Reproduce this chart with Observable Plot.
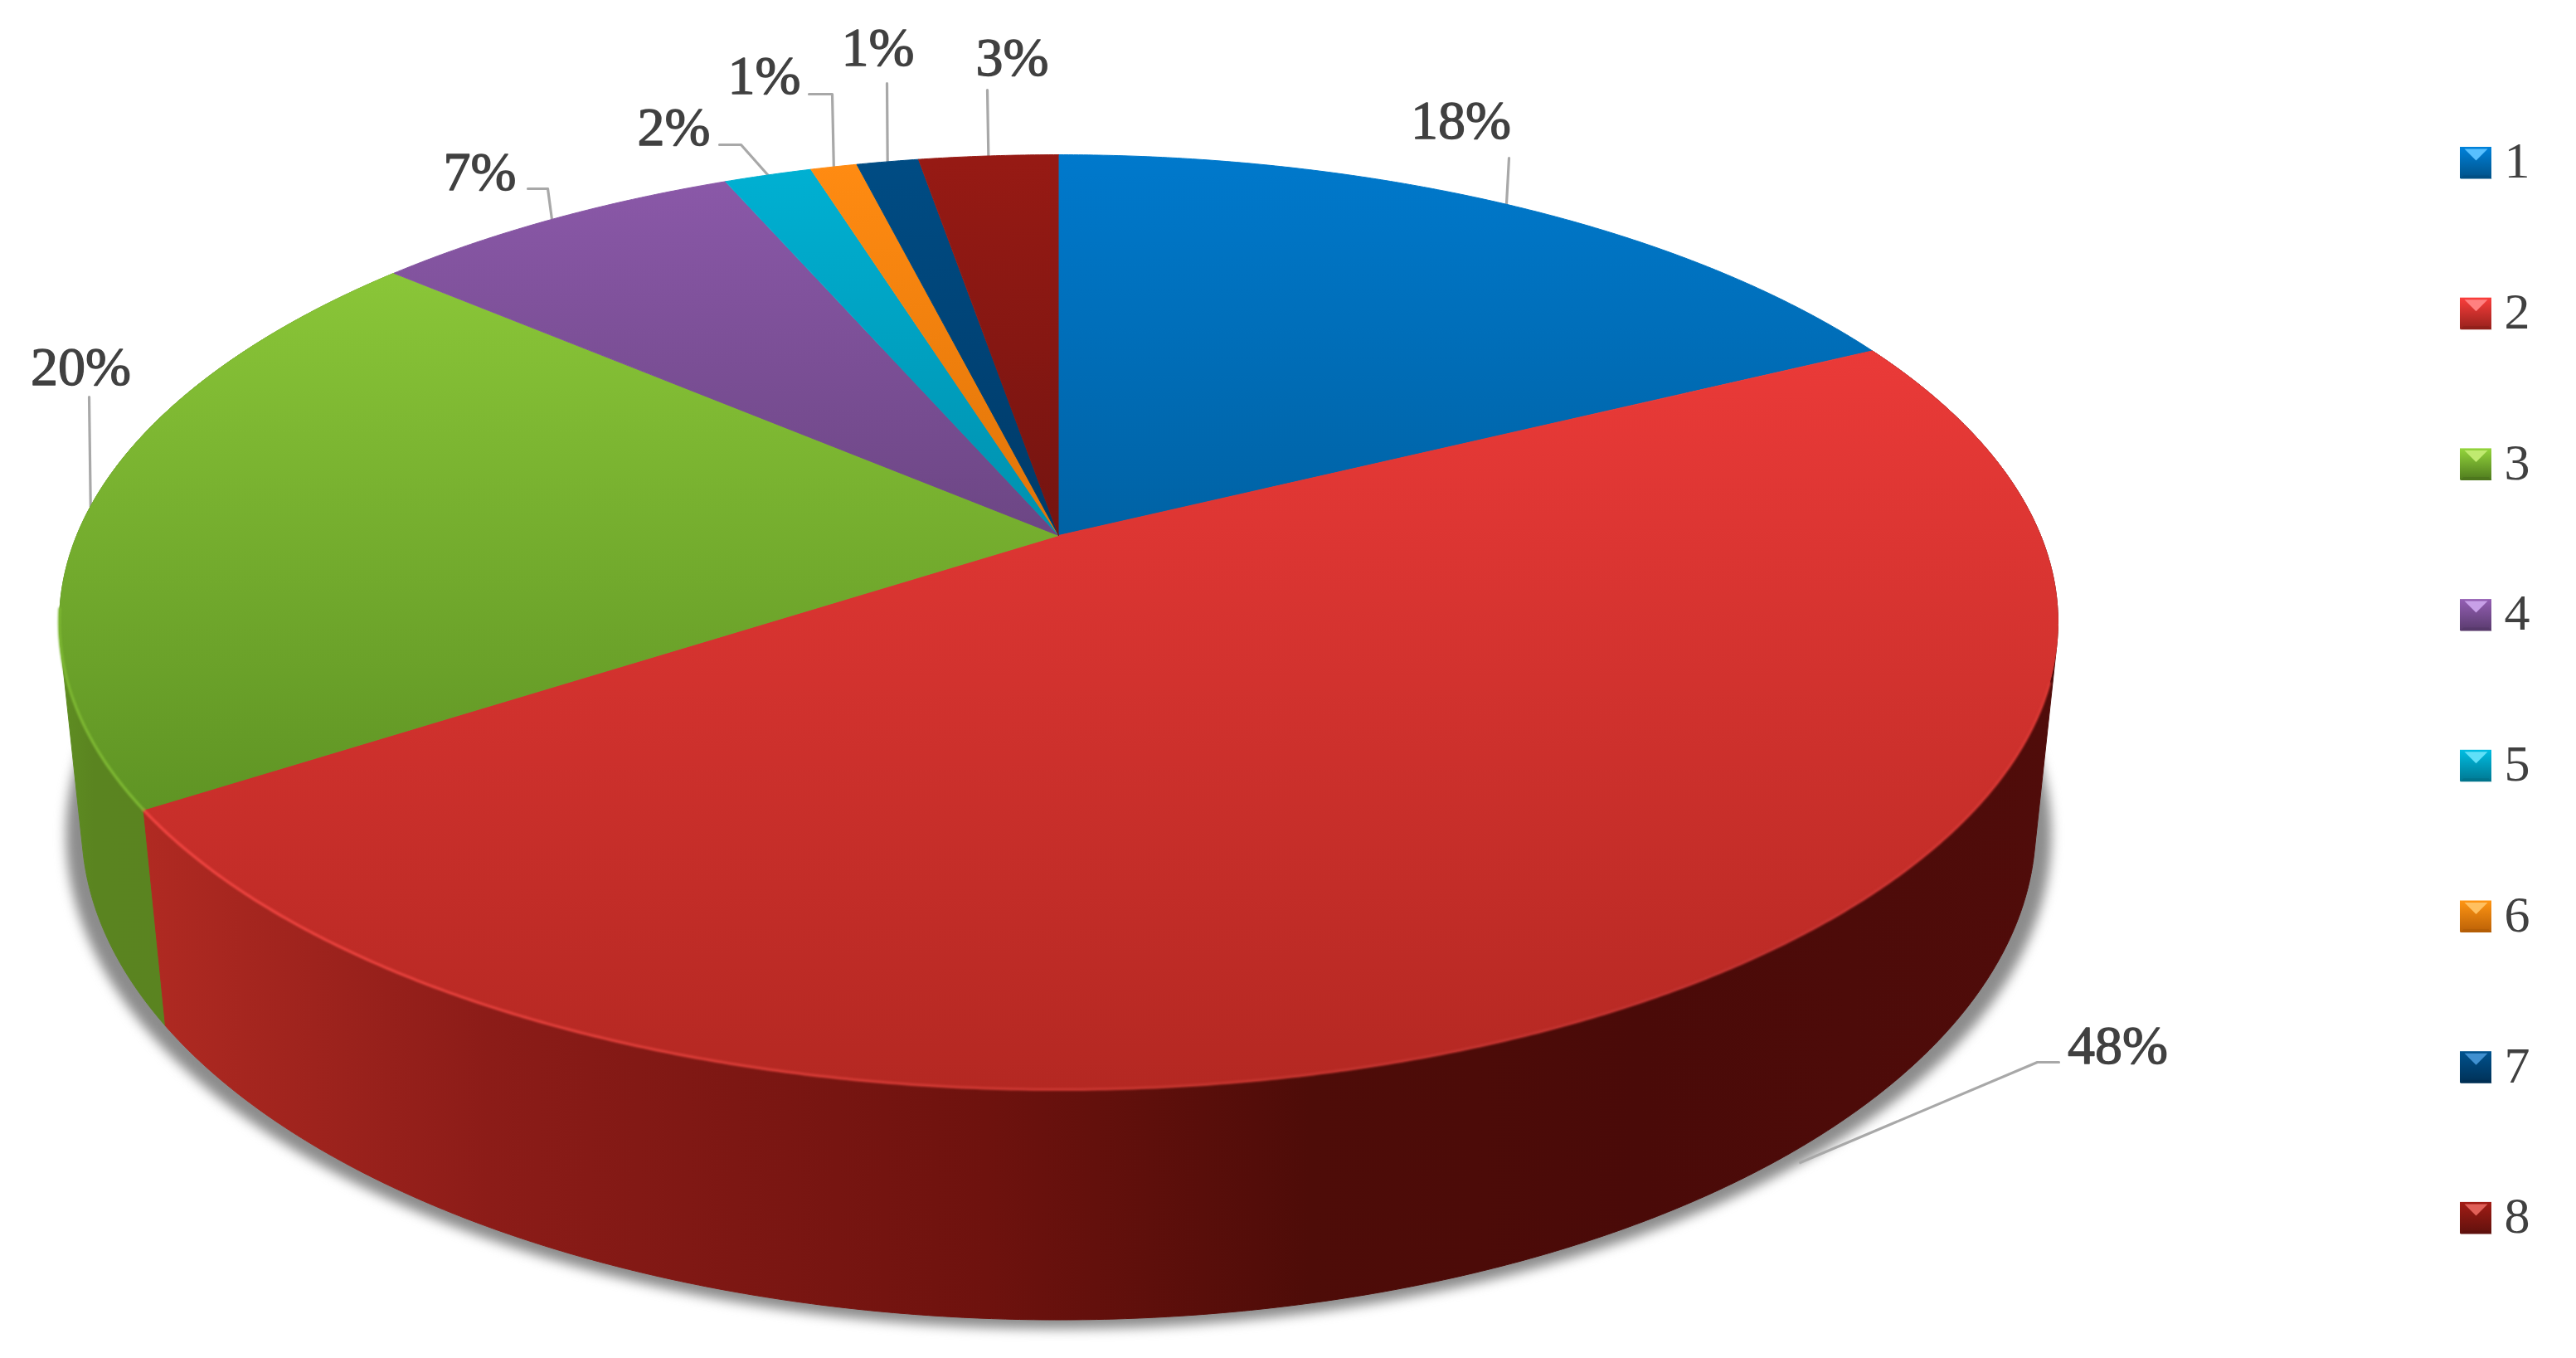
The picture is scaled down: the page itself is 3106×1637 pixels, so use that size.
<!DOCTYPE html>
<html>
<head>
<meta charset="utf-8">
<style>html,body{margin:0;padding:0;background:#fff;overflow:hidden}svg{display:block}</style>
<script src="https://cdn.jsdelivr.net/npm/d3@7"></script>
<script src="https://cdn.jsdelivr.net/npm/@observablehq/plot@0.6"></script>
</head>
<body>
<div id="chart"></div>
<script>
// ---- data ----
const categories = ["1","2","3","4","5","6","7","8"];
const shares = [17.7, 48.1, 20.49, 7.21, 1.7, 0.9, 1.2, 2.7];

// ---- styles ----
const topLight = ["#0079cc","#ea3a38","#8ac638","#8a58a8","#00b0d2","#ff8b12","#004c84","#971a14"];
const topDark  = ["#0062a4","#b42822","#5f9424","#6c4684","#0090ae","#e07408","#003a68","#741410"];
const gemLight = ["#58c0ff","#ff8080","#c0ea70","#c8a0e8","#60e0f8","#ffc060","#4090d0","#e06058"];

// ---- layout of the tilted disc (perspective projection of a unit circle) ----
const W = 3106, H = 1637;
const cx = 1276, apexY = 645, Rx = 1184, Ry = 544, tilt = 0.1854;
const lowerGrow = 0.022, lowerDrop = 247;
const rimTop = (t) => {
  const u = Math.sin(t), v = Math.cos(t), w = 1 + tilt * v;
  return {x: cx + Rx * u / w, y: apexY - Ry * v / w};
};
const rimLow = (t) => {
  const u = Math.sin(t), v = Math.cos(t), w = 1 + lowerGrow + tilt * v;
  return {x: cx + Rx * u / w, y: apexY + (lowerDrop - Ry * v) / w};
};
const total = d3.sum(shares);
const ends = d3.cumsum(shares).map((d) => d / total * 2 * Math.PI);
const starts = ends.map((d, i) => (i ? ends[i - 1] : 0));
const sweep = (a, b) => {
  const n = Math.max(2, Math.ceil((b - a) / 0.006));
  return d3.range(n + 1).map((k) => a + (b - a) * k / n);
};

// label centres and leader polylines, in pixels; last leader point is the rim mid-point unless given
const labelAt = [[1761,145],[2553,1260],[97,442],[578,207],[812,153],[921,91],[1058,57],[1220,69]];
const leaderStart = [
  [[1819,190]],
  [[2482,1280],[2456,1280],[2170,1401]],
  [[107,478]],
  [[636,227],[660,227]],
  [[867,174],[893,174]],
  [[975,113],[1003,113]],
  [[1069,100]],
  [[1190,108]]
];

const legendX = 2966, legendSize = 38, legendTop = 196, legendStep = 181.7;

// ---- geometry derived from the values ----
const topPolys = shares.map((_, i) => [{x: cx, y: apexY}, ...sweep(starts[i], ends[i]).map(rimTop)]);
const sidePoly = (i) => {
  const a = sweep(starts[i], ends[i]);
  return d3.polygonHull([...a.map(rimTop), ...a.map(rimLow)].map((p) => [p.x, p.y])).map(([x, y]) => ({x, y}));
};
const leaders = shares.map((_, i) => {
  const pts = leaderStart[i].map(([x, y]) => ({x, y}));
  if (i !== 1) pts.push(rimTop((starts[i] + ends[i]) / 2));
  return pts;
});
const shadowRing = sweep(0, 2 * Math.PI).map(rimLow).map((p) => ({
  x: cx + (p.x - cx) * 1.016,
  y: p.y + 11
}));
const labels = shares.map((d, i) => ({
  text: d3.format(".0f")(d) + "%",
  x: labelAt[i][0],
  y: labelAt[i][1]
}));
const legendRows = categories.map((c, i) => ({c, i, y: legendTop + i * legendStep}));
const gemTri = (r) => [
  {x: legendX + 5, y: r.y - legendSize / 2 + 2},
  {x: legendX + legendSize - 5, y: r.y - legendSize / 2 + 2},
  {x: legendX + legendSize / 2, y: r.y - 3}
];
const gemBase = (r) => [
  {x: legendX + 4, y: r.y + legendSize / 2 - 4},
  {x: legendX + legendSize - 4, y: r.y + legendSize / 2 - 4},
  {x: legendX + legendSize, y: r.y + legendSize / 2},
  {x: legendX, y: r.y + legendSize / 2}
];

const fg = (name, stops, horizontal) => (sel) => {
  const g = sel.append("linearGradient").attr("id", name)
    .attr("x1", 0).attr("y1", 0).attr("x2", horizontal ? 1 : 0).attr("y2", horizontal ? 0 : 1);
  stops.forEach(([o, c]) => g.append("stop").attr("offset", o).attr("stop-color", c));
};
const defsMark = () => {
  const defs = d3.create("svg:defs");
  categories.forEach((_, i) => {
    defs.call(fg(`top${i}`, [[0, topLight[i]], [1, topDark[i]]]));
    defs.call(fg(`gem${i}`, [[0, d3.color(topLight[i]).brighter(0.2).formatHex()], [1, d3.color(topDark[i]).darker(0.5).formatHex()]]));
  });
  defs.call(fg("sideRed", [[0,"#b02a22"],[0.18,"#8c1c18"],[0.44,"#6e120e"],[0.61,"#4e0c08"],[0.78,"#4a0a08"],[1,"#500c0a"]], true));
  defs.call(fg("sideGreen", [[0,"#5f8e22"],[0.1,"#5a8420"],[1,"#5a8220"]], true));
  defs.call(fg("rimRed", [[0,"#ee4440"],[0.55,"#c2342e"],[0.85,"#c03230"],[1,"#d83834"]], true));
  return defs.node();
};

const polygon = (pts, fill, extra = {}) => Plot.line(pts, {x: "x", y: "y", fill, stroke: fill, strokeWidth: 1, ...extra});

const sideFill = (i) => (i === 1 ? "url(#sideRed)" : i === 2 ? "url(#sideGreen)" : "#333");

const marks = [
  defsMark,
  polygon(shadowRing, "#8c8c8c", {ariaDescription: "shadow", stroke: "none"}),
  ...leaders.map((pts) => Plot.line(pts, {x: "x", y: "y", stroke: "#a8a8a8", strokeWidth: 3.2, curve: "linear"})),
  // sides, back to front: only the front-most faces stay visible
  ...[2,1].map((i) => polygon(sidePoly(i), sideFill(i))),
  ...topPolys.map((pts, i) => polygon(pts, `url(#top${i})`)),
  // bevel highlight along the front rim
  Plot.line(sweep(Math.PI * 0.6, ends[1]).map(rimTop), {x: "x", y: "y", stroke: "url(#rimRed)", strokeWidth: 3.5, ariaDescription: "rim"}),
  Plot.line(sweep(starts[2], starts[2] + 0.42).map(rimTop), {x: "x", y: "y", stroke: "#7cb632", strokeWidth: 3.5, ariaDescription: "rim"}),
  Plot.text(labels, {x: "x", y: "y", text: "text", fontSize: 66, fontFamily: "Liberation Serif", fill: "#404040", stroke: "#404040", strokeWidth: 1.3}),
  // legend
  ...legendRows.flatMap((r) => [
    Plot.rect([r], {x1: legendX, x2: legendX + legendSize, y1: (d) => d.y - legendSize / 2, y2: (d) => d.y + legendSize / 2, fill: `url(#gem${r.i})`}),
    polygon(gemBase(r), d3.color(topDark[r.i]).darker(0.6).formatHex(), {stroke: "none"}),
    polygon(gemTri(r), gemLight[r.i], {stroke: "none"})
  ]),
  Plot.text(legendRows, {x: legendX + 53, y: (d) => d.y - 2, text: "c", textAnchor: "start", fontSize: 62, fontFamily: "Liberation Serif", fill: "#404040"})
];

const chart = Plot.plot({
  width: W, height: H, margin: 0,
  style: {background: "#fff", overflow: "hidden"},
  x: {domain: [0, W], range: [0, W], axis: null},
  y: {domain: [0, H], range: [0, H], axis: null},
  marks
});
chart.querySelectorAll('[aria-description="shadow"]').forEach((n) => n.style.filter = "blur(7px)");
chart.querySelectorAll('[aria-description="rim"]').forEach((n) => n.style.filter = "blur(1px)");
document.getElementById("chart").append(chart);
</script>
</body>
</html>
